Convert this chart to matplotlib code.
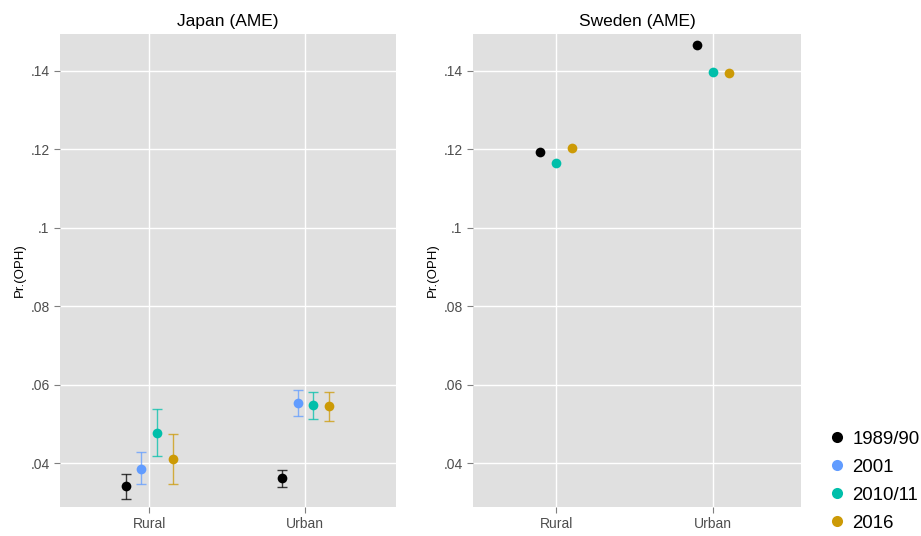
import matplotlib
matplotlib.use("Agg")
import matplotlib.pyplot as plt
import numpy as np

plt.rcParams['font.family'] = ['Liberation Sans', 'DejaVu Sans']

categories = ["Rural", "Urban"]
years = ["1989/90", "2001", "2010/11", "2016"]
colors = ["#000000", "#619CFF", "#00BFAA", "#CC9A06"]

# Japan: estimates and CI (rows = years, cols = Rural, Urban)
japan_est = [[0.0341, 0.0361],
             [0.0385, 0.0553],
             [0.0477, 0.0547],
             [0.0410, 0.0545]]
japan_lo = [[0.0309, 0.0339],
            [0.0347, 0.0520],
            [0.0417, 0.0513],
            [0.0346, 0.0507]]
japan_hi = [[0.0373, 0.0382],
            [0.0427, 0.0586],
            [0.0539, 0.0581],
            [0.0475, 0.0581]]

# Sweden: no 2001 wave
sweden_years = ["1989/90", "2010/11", "2016"]
sweden_est = [[0.1193, 0.1465],
              [0.1164, 0.1397],
              [0.1203, 0.1394]]

yticks = [0.04, 0.06, 0.08, 0.10, 0.12, 0.14]
yticklabels = [".04", ".06", ".08", ".1", ".12", ".14"]

fig = plt.figure(figsize=(9.21, 5.36), dpi=100)
ax1 = fig.add_axes([60/921, 29/536, 336/921, 473/536])
ax2 = fig.add_axes([473/921, 29/536, 328/921, 473/536])

def style(ax, title, xlim):
    ax.set_facecolor("#E0E0E0")
    for s in ax.spines.values():
        s.set_visible(False)
    ax.set_ylim(0.0288, 0.1494)
    ax.set_xlim(*xlim)
    ax.set_yticks(yticks)
    ax.set_yticklabels(yticklabels)
    ax.set_xticks([1, 2])
    ax.set_xticklabels(categories)
    ax.grid(True, color="white", linewidth=1.0)
    ax.set_axisbelow(True)
    ax.tick_params(axis="both", colors="#7F7F7F", labelcolor="#4D4D4D",
                   labelsize=10, length=4, width=0.8)
    ax.set_ylabel("Pr.(OPH)", fontsize=9.5, color="black", labelpad=3)
    ax.set_title(title, fontsize=12.5, color="black", pad=6)

x = np.array([1, 2])
offsets4 = [-0.15, -0.05, 0.05, 0.15]
for i, yr in enumerate(years):
    est = np.array(japan_est[i])
    lo = np.array(japan_lo[i])
    hi = np.array(japan_hi[i])
    ax1.errorbar(x + offsets4[i], est, yerr=[est - lo, hi - est], fmt="none",
                 ecolor=colors[i], elinewidth=1.0, capsize=3.5,
                 capthick=1.0, alpha=0.75, zorder=3)
    ax1.plot(x + offsets4[i], est, "o", color=colors[i], markersize=7,
             markeredgewidth=0, zorder=4)

offsets3 = [-0.1, 0.0, 0.1]
for i, yr in enumerate(sweden_years):
    c = colors[years.index(yr)]
    ax2.plot(x + offsets3[i], sweden_est[i], "o", color=c, markersize=7,
             markeredgewidth=0, zorder=3)

style(ax1, "Japan (AME)", (0.43, 2.58))
style(ax2, "Sweden (AME)", (0.47, 2.56))

handles = [plt.Line2D([], [], marker="o", linestyle="none", color=c,
                      markersize=8, markeredgewidth=0) for c in colors]
fig.legend(handles, years, loc="lower left", bbox_to_anchor=(818/921, -3/536),
           frameon=False, fontsize=13.4, handletextpad=0.25, labelspacing=0.59,
           handlelength=1.2, borderaxespad=0)

fig.savefig("out.png", dpi=100)
